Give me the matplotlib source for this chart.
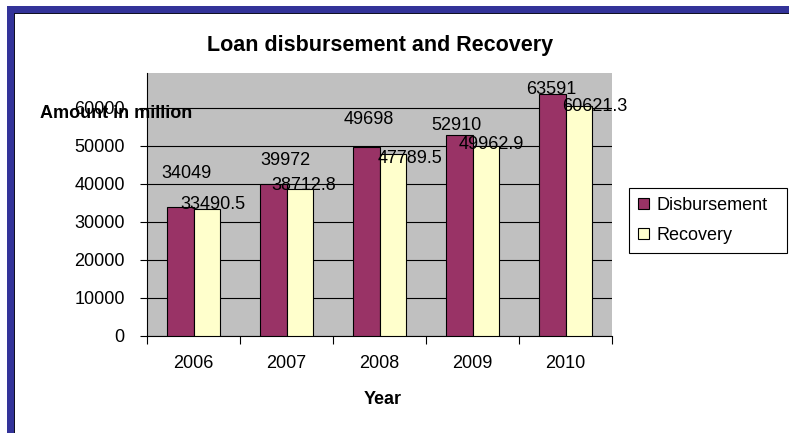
import numpy as np
import matplotlib.pyplot as plt
from matplotlib.patches import Patch, Rectangle

plt.rcParams["font.family"] = ["Liberation Sans", "DejaVu Sans"]

years = ["2006", "2007", "2008", "2009", "2010"]
disbursement = [34049, 39972, 49698, 52910, 63591]
recovery = [33490.5, 38712.8, 47789.5, 49962.9, 60621.3]

# hand-placed label nudges (pixels, relative to bar top)
disb_offsets = [(6, 33), (12, 24), (3, 28), (-3, 9), (-1, 5)]
rec_offsets = [(6, 4), (4, 3), (17, -4), (5, 2), (16, -1)]

maroon = "#993366"
cream = "#FFFFCC"
frame_blue = "#333399"

fig = plt.figure(figsize=(7.89, 4.33), dpi=100)
W, H = 789, 433

# slide frame: blue band on top and left with a thin dark inner edge
fig.patches.append(Rectangle((7 / W, 0), 7 / W, 1 - 6 / H, transform=fig.transFigure,
                             facecolor=frame_blue, edgecolor="none"))
fig.patches.append(Rectangle((7 / W, 1 - 13 / H), 1, 7 / H, transform=fig.transFigure,
                             facecolor=frame_blue, edgecolor="none"))
fig.patches.append(Rectangle((14 / W, 0), 1.2 / W, 1 - 13 / H, transform=fig.transFigure,
                             facecolor="#111122", edgecolor="none"))
fig.patches.append(Rectangle((14 / W, 1 - 14.2 / H), 1, 1.2 / H, transform=fig.transFigure,
                             facecolor="#111122", edgecolor="none"))

ax = fig.add_axes([147 / W, 1 - 336 / H, (612 - 147) / W, (336 - 73) / H])
ax.set_facecolor("#C0C0C0")

x = np.arange(len(years))
w = 0.29
b1 = ax.bar(x - w / 2, disbursement, w, color=maroon, edgecolor="black", linewidth=0.8,
            label="Disbursement", zorder=3)
b2 = ax.bar(x + w / 2, recovery, w, color=cream, edgecolor="black", linewidth=0.8,
            label="Recovery", zorder=3)

for rect, v, (dx, dy) in zip(b1, disbursement, disb_offsets):
    ax.annotate(f"{v:g}", (rect.get_x() + rect.get_width() / 2, v),
                xytext=(dx, dy), textcoords="offset pixels",
                ha="center", va="center", fontsize=13, zorder=5)
for rect, v, (dx, dy) in zip(b2, recovery, rec_offsets):
    ax.annotate(f"{v:g}", (rect.get_x() + rect.get_width() / 2, v),
                xytext=(dx, dy), textcoords="offset pixels",
                ha="center", va="center", fontsize=13, zorder=5,
                annotation_clip=False)

ax.set_xlim(-0.5, len(years) - 0.5)
ax.set_ylim(0, 69200)
ax.set_yticks(np.arange(0, 60001, 10000))
ax.yaxis.grid(True, color="black", linewidth=0.8, zorder=0)
ax.set_axisbelow(True)

ax.set_xticks(x)
ax.set_xticklabels(years)
ax.set_xticks(np.arange(-0.5, len(years)), minor=True)
ax.tick_params(axis="x", which="major", length=0, pad=14, labelsize=13)
ax.tick_params(axis="x", which="minor", length=6, width=0.8, direction="out")
ax.tick_params(axis="y", length=5, width=0.8, direction="out", pad=11, labelsize=13)

for side in ("top", "right"):
    ax.spines[side].set_visible(False)
for side in ("left", "bottom"):
    ax.spines[side].set_linewidth(0.8)

fig.text(380 / W, 1 - 45 / H, "Loan disbursement and Recovery", ha="center", va="center",
         fontsize=15.5, fontweight="bold")
fig.text(116 / W, 1 - 113 / H, "Amount in million", ha="center", va="center",
         fontsize=13, fontweight="bold")
fig.text(383 / W, 1 - 399 / H, "Year", ha="center", va="center",
         fontsize=13, fontweight="bold")

handles = [Patch(facecolor=maroon, edgecolor="black", linewidth=0.8),
           Patch(facecolor=cream, edgecolor="black", linewidth=0.8)]
leg = fig.legend(handles, ["Disbursement", "Recovery"], loc="upper left",
                 bbox_to_anchor=(629 / W, 1 - 252 / H, 158 / W, 64 / H), mode="expand",
                 borderaxespad=0, fontsize=13, handlelength=0.6, handleheight=0.6,
                 handletextpad=0.4, labelspacing=0.7, borderpad=0.5, fancybox=False,
                 edgecolor="black", framealpha=1)
leg.get_frame().set_linewidth(0.8)

fig.savefig("out.png", dpi=100)
